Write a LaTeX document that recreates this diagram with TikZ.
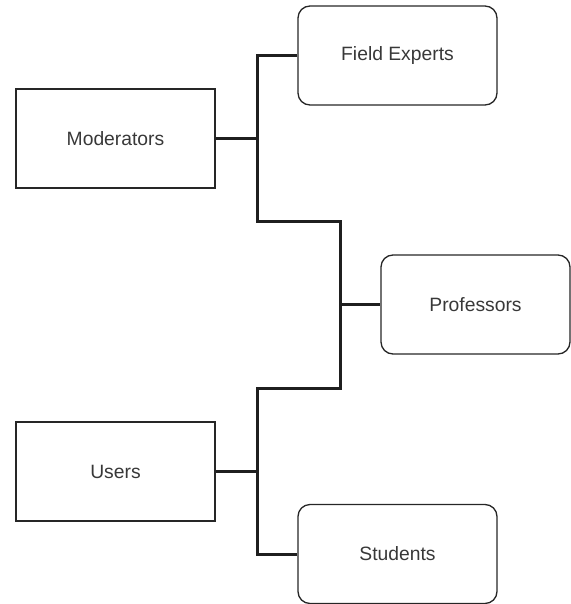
\documentclass[tikz,border=0pt]{standalone}
\usepackage{fontspec}
\setmainfont{Liberation Sans}
\begin{document}
\begin{tikzpicture}[x=1pt,y=-1pt,
  box/.style={draw=black!85,line width=1.3pt,minimum width=199pt,minimum height=99pt,inner sep=0pt,
    font=\fontsize{19.3}{22}\selectfont,text=black!78,anchor=north west},
  rbox/.style={box,rounded corners=12pt},
  link/.style={draw=black!88,line width=3pt}]
\useasboundingbox (0,0) rectangle (570,604);
\node[box,anchor=center] (mod) at (115.5,138.5) {Moderators};
\node[rbox,anchor=center] (fe) at (397.5,55.5) {Field Experts};
\node[rbox,anchor=center,minimum width=189pt] (prof) at (475.5,304.5) {Professors};
\node[box,anchor=center] (usr) at (115.5,471.5) {Users};
\node[rbox,anchor=center] (stu) at (397.5,554) {Students};
\coordinate (j1) at (257,138.5);
\coordinate (j2) at (340,304.5);
\coordinate (j3) at (257,471.5);
\draw[link] (mod.east) -- (j1);
\draw[link] (fe.west) -| (j1) |- (257,221) -| (j2);
\draw[link] (j2) -- (prof.west);
\draw[link] (j2) |- (257,388) -- (j3);
\draw[link] (usr.east) -- (j3);
\draw[link] (j3) |- (stu.west);
\end{tikzpicture}
\end{document}
